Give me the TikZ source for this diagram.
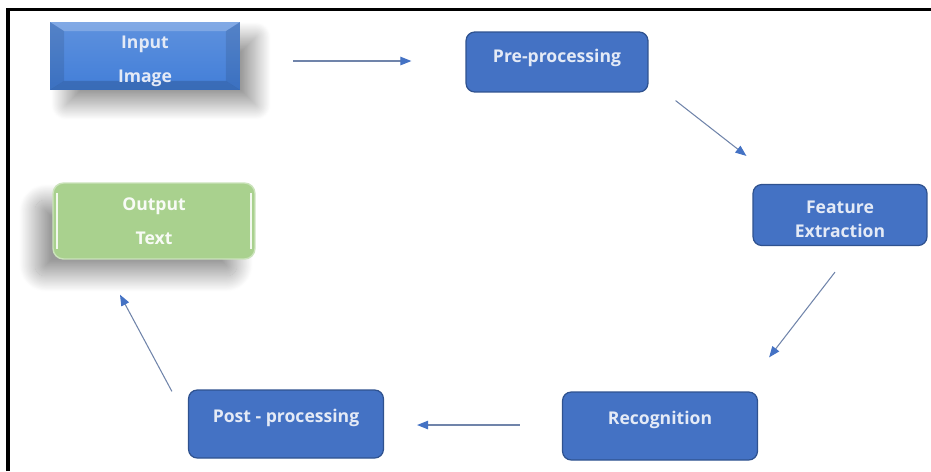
\documentclass[tikz,border=0pt]{standalone}
\usepackage{fontspec}
\setmainfont{Open Sans}
\usepackage{tikz}
\usetikzlibrary{arrows.meta, shadows.blur}
\definecolor{BoxBlue}{RGB}{68,114,196}
\definecolor{BevelBlue}{RGB}{66,126,216}
\definecolor{BoxEdge}{RGB}{47,82,143}
\definecolor{BoxText}{RGB}{228,234,246}
\definecolor{BoxGreen}{RGB}{169,209,142}
\definecolor{ArrLine}{RGB}{112,132,170}
% lowers a line of node text without changing the node
\newcommand{\dropby}[2]{\raisebox{-#1}[\height][\depth]{#2}}

\begin{document}
\begin{tikzpicture}[x=0.02cm, y=-0.02cm,
    box/.style={rectangle, draw=BoxEdge, fill=BoxBlue, rounded corners=5pt, line width=0.7pt,
                minimum width=3.9cm, minimum height=1.36cm, align=center, text=BoxText,
                font=\fontsize{10}{12.5}\selectfont\bfseries},
    bevelbox/.style={rectangle, top color=BevelBlue!85!white, bottom color=BevelBlue,
                minimum width=3.8cm, minimum height=1.36cm, align=center, text=BoxText,
                font=\fontsize{10}{12.5}\selectfont\bfseries,
                blur shadow={shadow xshift=0.32cm, shadow yshift=-0.3cm, shadow blur radius=0.3cm,
                             shadow blur steps=40, shadow opacity=40},
                path picture={
                  \fill[white, opacity=0.22] (path picture bounding box.north west) -- (path picture bounding box.north east)
                    -- ([shift={(-14,9)}]path picture bounding box.north east) -- ([shift={(14,9)}]path picture bounding box.north west) -- cycle;
                  \fill[black, opacity=0.1] (path picture bounding box.north west) -- ([shift={(14,9)}]path picture bounding box.north west)
                    -- ([shift={(14,-9)}]path picture bounding box.south west) -- (path picture bounding box.south west) -- cycle;
                  \fill[black, opacity=0.1] (path picture bounding box.north east) -- ([shift={(-14,9)}]path picture bounding box.north east)
                    -- ([shift={(-14,-9)}]path picture bounding box.south east) -- (path picture bounding box.south east) -- cycle;
                  \fill[black, opacity=0.15] (path picture bounding box.south west) -- (path picture bounding box.south east)
                    -- ([shift={(-14,-9)}]path picture bounding box.south east) -- ([shift={(14,-9)}]path picture bounding box.south west) -- cycle;
                }},
    greenbox/.style={rectangle, draw=BoxGreen!60!white, fill=BoxGreen, rounded corners=6pt, line width=0.8pt,
                minimum width=4.04cm, minimum height=1.52cm, align=center, text=white!92!BoxGreen,
                font=\fontsize{10}{12.5}\selectfont\bfseries,
                blur shadow={shadow xshift=-0.36cm, shadow yshift=-0.34cm, shadow blur radius=0.32cm,
                             shadow blur steps=40, shadow opacity=40},
                path picture={
                  \draw[white, line width=1.4pt, opacity=0.85] ([shift={(4,10)}]path picture bounding box.north west) -- ([shift={(4,-10)}]path picture bounding box.south west);
                  \draw[white, line width=1.4pt, opacity=0.85] ([shift={(-4,10)}]path picture bounding box.north east) -- ([shift={(-4,-10)}]path picture bounding box.south east);
                }},
    arr/.style={draw=ArrLine, line width=0.6pt, -{Triangle[length=0.22cm, width=0.17cm, color=BoxBlue]}}
]
\useasboundingbox (0,0) rectangle (931,471);
% frame
\draw[line width=0.075cm] (8,471) -- (8,9.5) -- (931,9.5);

% nodes
\node[bevelbox] (inp) at (145,56) {\dropby{0.1cm}{Input}\\[7pt] \dropby{0.1cm}{Image}};
\node[greenbox] (outp) at (154,221) {Output\\[7pt] Text};
\node[box, minimum width=3.64cm, minimum height=1.2cm, text depth=0.24cm] (pre) at (557,62) {Pre-processing};
\node[box, minimum width=3.48cm, minimum height=1.22cm] (feat) at (840,215) {\dropby{0.08cm}{Feature}\\[1pt] \dropby{0.08cm}{Extraction}};
\node[box, text depth=0.33cm] (rec) at (660,426) {Recognition};
\node[box, text depth=0.31cm] (post) at (286,424) {Post - processing};

% connectors
\draw[arr] ([shift={(53,5)}]inp.east) -- ([shift={(-54,-1)}]pre.west);
\draw[arr] ([shift={(27,8)}]pre.south east) -- ([shift={(-6,-28)}]feat.north west);
\draw[arr] ([shift={(-5,26)}]feat.south) -- ([shift={(11,-34)}]rec.north east);
\draw[arr] ([shift={(-42,-1)}]rec.west) -- ([shift={(33,1)}]post.east);
\draw[arr] ([shift={(-16,2)}]post.north west) -- ([shift={(-34,35)}]outp.south);
\end{tikzpicture}
\end{document}
